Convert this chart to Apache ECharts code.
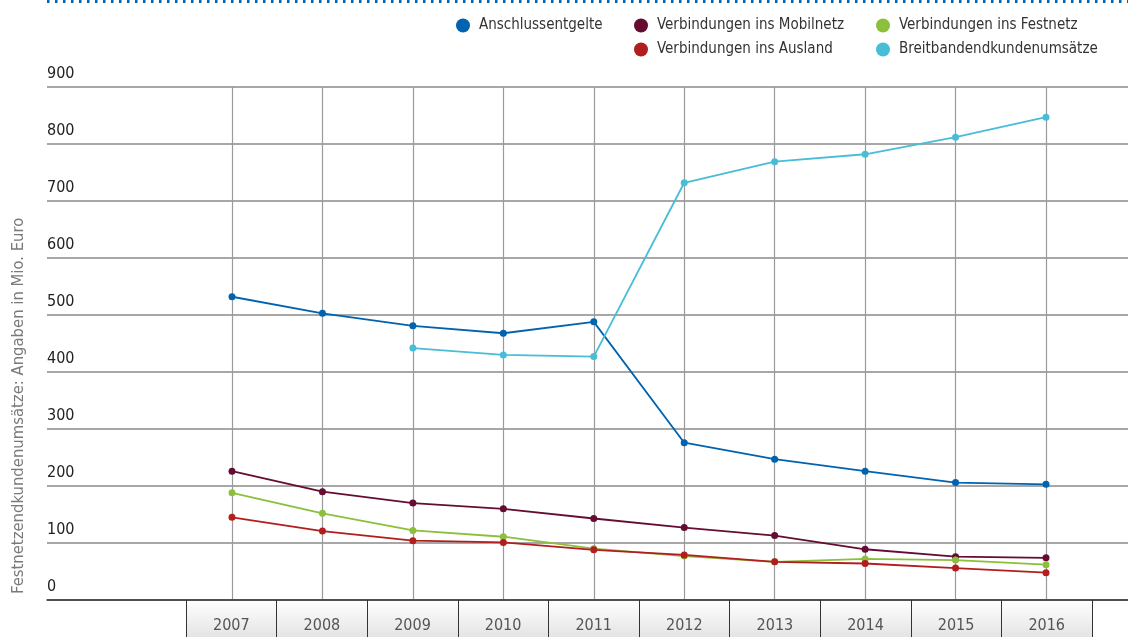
<!DOCTYPE html>
<html>
<head>
<meta charset="utf-8">
<script src="https://cdn.jsdelivr.net/npm/echarts@6/dist/echarts.min.js"></script>
<style>
  html, body { margin: 0; padding: 0; background: #fff; }
  #chart { width: 1128px; height: 637px; }
</style>
</head>
<body>
<div id="chart"></div>
<script>
// Festnetzendkundenumsätze, Angaben in Mio. Euro
const years = ['2007', '2008', '2009', '2010', '2011', '2012', '2013', '2014', '2015', '2016'];
const yTicks = { min: 0, max: 900, interval: 100 };

const anschlussentgelte = [532, 503, 481, 468, 488, 276, 247, 226, 206, 203];
const mobilnetz = [226, 190, 170, 160, 143, 127, 113, 89, 76, 74];
const festnetz = [188, 152, 122, 111, 90, 77, 67, 72, 70, 62];
const ausland = [145, 121, 104, 101, 88, 79, 67, 64, 56, 48];
const breitband = [null, null, 442, 430, 427, 732, 769, 782, 812, 847];

const seriesNames = [
  'Anschlussentgelte',
  'Verbindungen ins Mobilnetz',
  'Verbindungen ins Festnetz',
  'Verbindungen ins Ausland',
  'Breitbandendkundenumsätze'
];
const seriesColors = ['#0063af', '#650c33', '#8cbf3b', '#b21e1e', '#47bdd7'];
const seriesValues = [anschlussentgelte, mobilnetz, festnetz, ausland, breitband];

const FONT = '"Liberation Sans Narrow", "DejaVu Sans Condensed", "Roboto", sans-serif';

const chart = echarts.init(document.getElementById('chart'), null, { renderer: 'canvas' });

const legendBase = {
  icon: 'circle',
  itemWidth: 14,
  itemHeight: 14,
  itemGap: 9,
  orient: 'vertical',
  top: 13,
  selectedMode: false,
  textStyle: { fontFamily: FONT, fontSize: 15, color: '#333', padding: [0, 0, 0, 4] }
};

chart.setOption({
  animation: false,
  backgroundColor: '#fff',
  textStyle: { fontFamily: FONT },
  legend: [
    Object.assign({}, legendBase, { left: 451, data: [seriesNames[0]] }),
    Object.assign({}, legendBase, { left: 629, data: [seriesNames[1], seriesNames[3]] }),
    Object.assign({}, legendBase, { left: 871, data: [seriesNames[2], seriesNames[4]] })
  ],
  grid: [
    // horizontal value grid spanning the full width
    { left: 47, right: 0, top: 87, bottom: 37 },
    // plotting area with the yearly categories
    { left: 232, right: 82, top: 87, bottom: 37 },
    // year boxes below the axis
    {
      left: 186, right: 36, top: 600, bottom: 0, show: true, borderWidth: 0,
      backgroundColor: new echarts.graphic.LinearGradient(0, 0, 0, 1, [
        { offset: 0, color: '#ffffff' },
        { offset: 1, color: '#e4e4e4' }
      ])
    }
  ],
  xAxis: [
    {
      gridIndex: 0, type: 'value', min: 0, max: 1,
      axisLine: { show: true, lineStyle: { color: '#333', width: 1.5 } },
      axisTick: { show: false }, axisLabel: { show: false }, splitLine: { show: false }
    },
    {
      gridIndex: 1, type: 'category', data: years, boundaryGap: false,
      axisLine: { show: false }, axisTick: { show: false }, axisLabel: { show: false },
      splitLine: { show: true, lineStyle: { color: '#9a9a9a', width: 1.2 } }
    },
    {
      gridIndex: 2, type: 'category', data: years, boundaryGap: true, position: 'top',
      axisLine: { show: false },
      axisTick: { show: false },
      axisLabel: {
        show: true, inside: true, margin: 26, verticalAlign: 'middle',
        fontFamily: FONT, fontSize: 16, color: '#555'
      },
      splitLine: { show: true, lineStyle: { color: '#333', width: 1 } }
    }
  ],
  yAxis: [
    {
      gridIndex: 0, type: 'value', min: yTicks.min, max: yTicks.max, interval: yTicks.interval,
      axisLine: { show: false }, axisTick: { show: false },
      axisLabel: {
        inside: true, margin: 0, align: 'left', verticalAlign: 'bottom',
        padding: [0, 0, 5, 0], fontFamily: FONT, fontSize: 16, color: '#222'
      },
      splitLine: { show: true, lineStyle: { color: '#8a8a8a', width: 1.5 } }
    },
    {
      gridIndex: 1, type: 'value', min: yTicks.min, max: yTicks.max, interval: yTicks.interval,
      show: false
    },
    {
      gridIndex: 2, type: 'value', min: 0, max: 1, show: false
    }
  ],
  graphic: [
    {
      type: 'line', silent: true,
      shape: { x1: 47, y1: 1.5, x2: 1128, y2: 1.5 },
      style: { stroke: '#0066b3', lineWidth: 3, lineDash: [2.5, 5.5] }
    },
    {
      type: 'text', silent: true, x: 19, y: 594, rotation: Math.PI / 2,
      style: {
        text: 'Festnetzendkundenumsätze: Angaben in Mio. Euro',
        fontFamily: FONT, fontSize: 16.5, fill: '#7a7a7a',
        textAlign: 'left', textVerticalAlign: 'middle'
      }
    }
  ],
  series: seriesNames.map((name, i) => ({
    name: name,
    type: 'line',
    xAxisIndex: 1,
    yAxisIndex: 1,
    data: seriesValues[i],
    symbol: 'circle',
    symbolSize: 7,
    color: seriesColors[i],
    lineStyle: { width: 1.8, color: seriesColors[i] },
    itemStyle: { color: seriesColors[i] },
    z: 3
  }))
});
</script>
</body>
</html>
